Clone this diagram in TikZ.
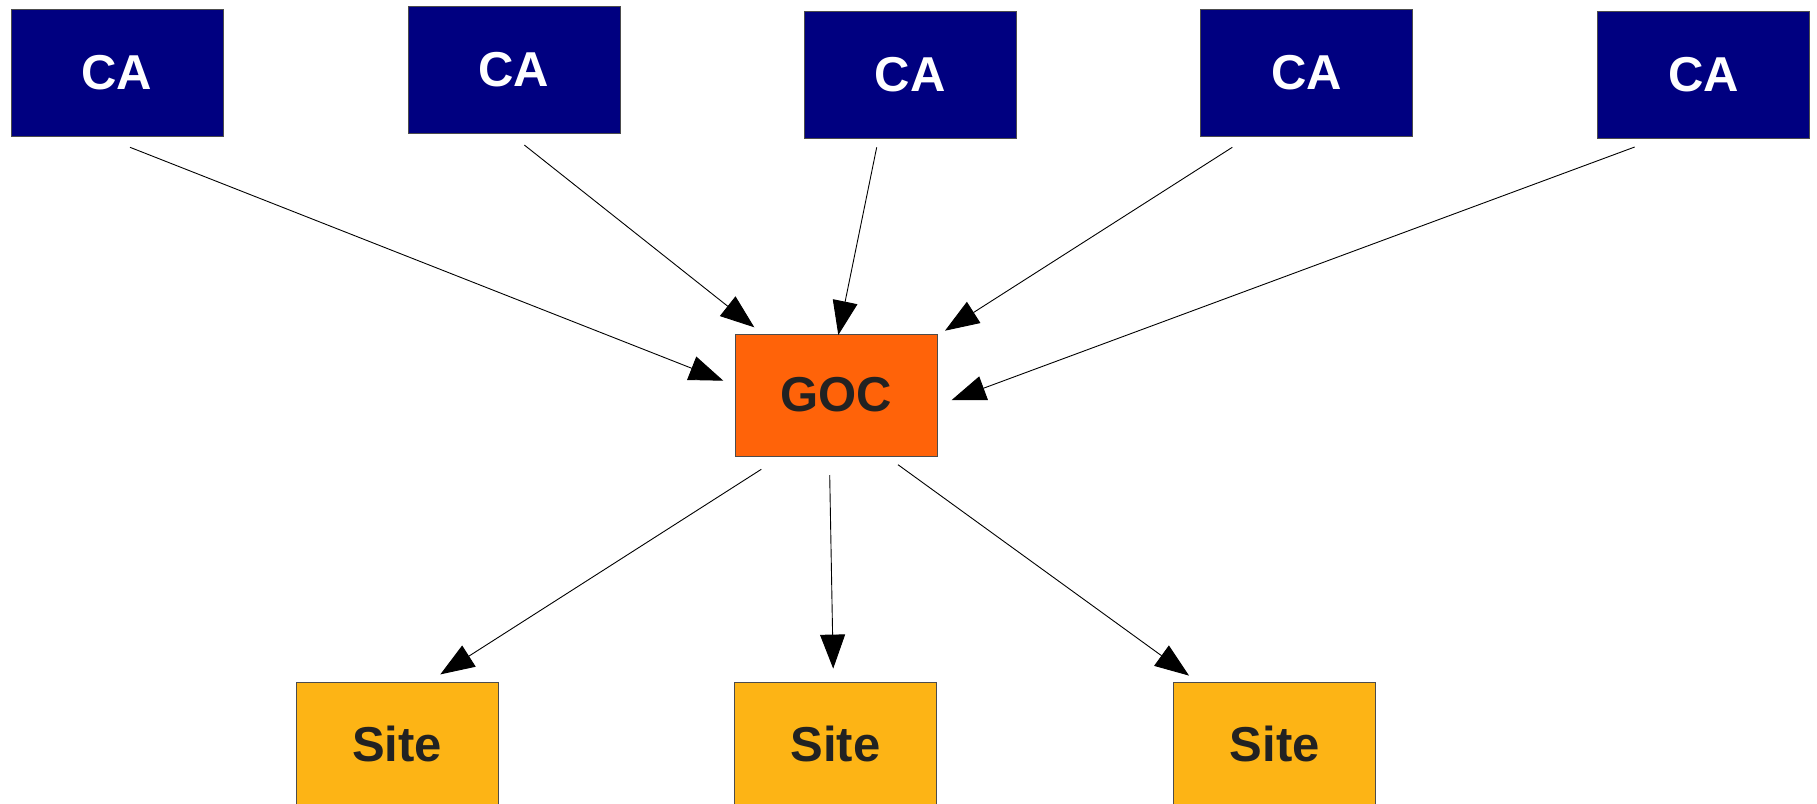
\documentclass[tikz,border=0pt]{standalone}
\usepackage{fontspec}
\setmainfont{Liberation Sans}
\usetikzlibrary{arrows.meta}
\definecolor{canavy}{HTML}{000080}
\definecolor{gocorange}{HTML}{FF6309}
\definecolor{siteyellow}{HTML}{FDB415}
\definecolor{darktext}{HTML}{222222}
\tikzset{
  box/.style={draw=black!70, line width=1pt, inner sep=0pt, outer sep=0pt,
    font=\fontsize{49}{52}\selectfont\bfseries},
  cabox/.style={box, fill=canavy, text=white, minimum width=212pt, minimum height=127pt},
  gocbox/.style={box, fill=gocorange, text=darktext, minimum width=202pt, minimum height=122pt},
  sitebox/.style={box, fill=siteyellow, text=darktext, minimum width=202pt, minimum height=124pt},
  conn/.style={line width=0.9pt, -{Triangle[length=34pt,width=25pt]}}
}
\begin{document}
\begin{tikzpicture}[x=1pt,y=-1pt]
\useasboundingbox (0,0) rectangle (1817,803);
\fill[white] (0,0) rectangle (1817,803);
\node[cabox] (ca1) at (117,73) {CA};
\node[cabox] (ca2) at (514,69.5) {CA};
\node[cabox] (ca3) at (910,75) {CA};
\node[cabox] (ca4) at (1306.5,73) {CA};
\node[cabox] (ca5) at (1703.5,74.5) {CA};
\node[gocbox] (goc) at (836,395) {GOC};
\node[sitebox] (site1) at (397,744) {Site};
\node[sitebox] (site2) at (835.5,744) {Site};
\node[sitebox] (site3) at (1274.7,744) {Site};
% connector end points (arrows do not touch the boxes)
\coordinate (s1) at (130,147.3);
\coordinate (t1) at (723.3,380.7);
\coordinate (s2) at (524.3,145);
\coordinate (t2) at (754.3,327.3);
\coordinate (s3) at (876.7,147.3);
\coordinate (t3) at (838.3,335);
\coordinate (s4) at (1232.3,147.3);
\coordinate (t4) at (945,330.7);
\coordinate (s5) at (1634.7,147);
\coordinate (t5) at (951.7,400);
\coordinate (s6) at (761.3,469.3);
\coordinate (t6) at (440.3,674.4);
\coordinate (s7) at (829.7,475);
\coordinate (t7) at (833.2,668.6);
\coordinate (s8) at (898,464.7);
\coordinate (t8) at (1189,675.6);
\draw[conn] (s1) -- (t1);
\draw[conn] (s2) -- (t2);
\draw[conn] (s3) -- (t3);
\draw[conn] (s4) -- (t4);
\draw[conn] (s5) -- (t5);
\draw[conn] (s6) -- (t6);
\draw[conn] (s7) -- (t7);
\draw[conn] (s8) -- (t8);
\end{tikzpicture}
\end{document}
